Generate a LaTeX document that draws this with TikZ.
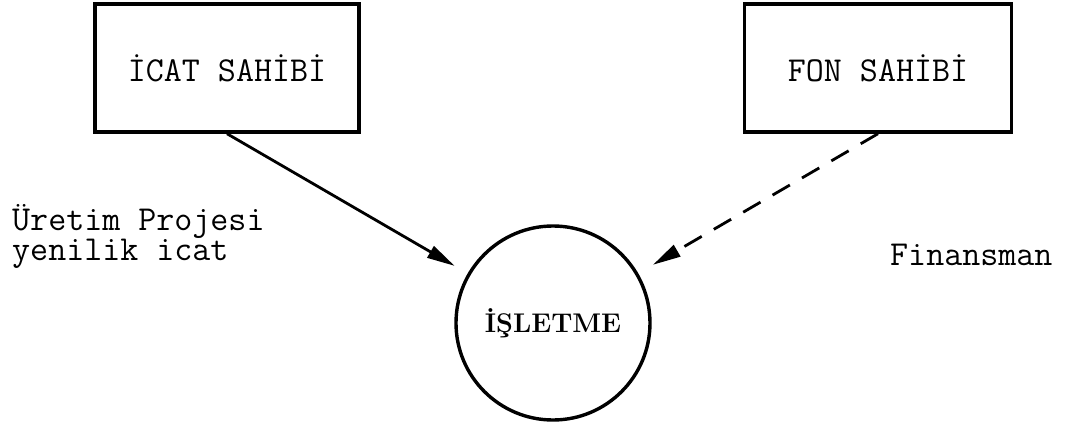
\documentclass[tikz,border=0pt]{standalone}
\usepackage{fontspec}
\usetikzlibrary{arrows.meta,positioning}
\newcommand\typewriter{\fontsize{35}{30}\selectfont\ttfamily}
\tikzset{
    party/.style   = {draw, line width=3.4pt, minimum width=264pt,
                      minimum height=128pt, inner sep=0pt, font=\typewriter},
    firm/.style    = {draw, circle, line width=3.4pt, minimum size=194pt,
                      inner sep=0pt, font=\fontsize{27}{30}\selectfont\bfseries},
    flow/.style    = {line width=2.8pt, -{Triangle[length=28pt,width=13pt]}},
    funding/.style = {flow, dash pattern=on 20pt off 14pt},
    note/.style    = {inner sep=0pt, font=\typewriter, align=left}
}

\begin{document}
\begin{tikzpicture}[x=1pt, y=-1pt]
\useasboundingbox (0,0) rectangle (1066,428);

% The two outside parties and the firm they feed.
\node[party] (inventor) at (227,68) {İCAT SAHİBİ};
\node[party, minimum width=267pt] (funder) at (878,68) {FON SAHİBİ};
\node[firm]  (firm)     at (553,323) {İŞLETME};

% Project flows in solid, money flows dashed.
\draw[flow, shorten >=15pt] (inventor.south) -- (firm);
\draw[funding, shorten >=17pt] (funder.south) -- (firm);

% Labels of what each party brings.
\node[note, anchor=north west] (project) at (12,204)
    {Üretim Projesi\\yenilik icat};
\node[note, anchor=base west] (finance) at (890,265) {Finansman};

\end{tikzpicture}
\end{document}
